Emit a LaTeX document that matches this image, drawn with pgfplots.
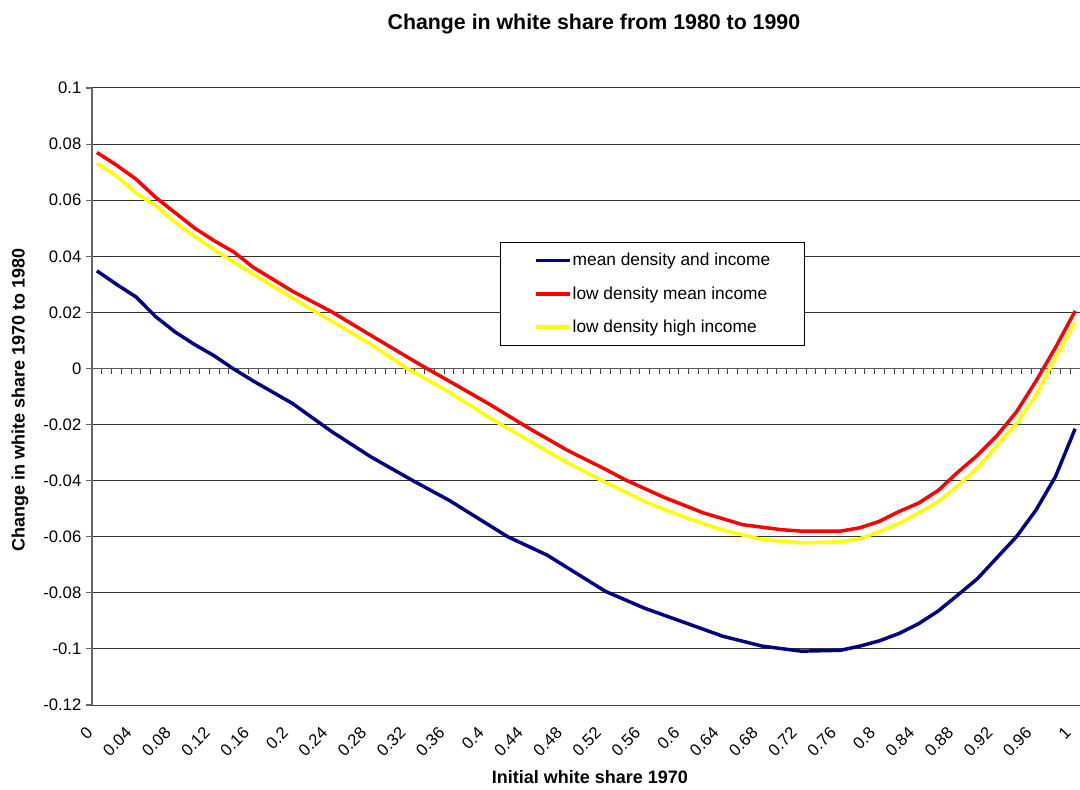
\documentclass[border=0pt]{standalone}
\usepackage{fontspec}
\setmainfont{Liberation Sans}
\usepackage{pgfplots}
\pgfplotsset{compat=1.18}

\definecolor{meanline}{HTML}{000080}
\definecolor{lowmean}{HTML}{FF0000}
\definecolor{lowhigh}{HTML}{FFFF00}

\pgfplotstableread{
x      y
0.00   0.0348
0.02   0.0300
0.04   0.0255
0.06   0.0185
0.08   0.0130
0.10   0.0085
0.12   0.0045
0.139  0.0000
0.16  -0.0045
0.20  -0.0125
0.24  -0.0225
0.28  -0.0315
0.323 -0.0400
0.36  -0.0470
0.39  -0.0535
0.42  -0.0600
0.46  -0.0665
0.52  -0.0795
0.56  -0.0855
0.60  -0.0905
0.64  -0.0955
0.68  -0.0990
0.72  -0.1008
0.76  -0.1005
0.78  -0.0990
0.80  -0.0971
0.82  -0.0945
0.84  -0.0910
0.86  -0.0865
0.88  -0.0808
0.90  -0.0750
0.92  -0.0675
0.94  -0.0600
0.96  -0.0505
0.98  -0.0385
1.00  -0.0215
}\meandata

\pgfplotstableread{
x      y
0.00   0.0770
0.02   0.0725
0.04   0.0675
0.06   0.0610
0.08   0.0555
0.10   0.0500
0.12   0.0455
0.14   0.0415
0.16   0.0360
0.20   0.0275
0.24   0.0202
0.28   0.0118
0.32   0.0035
0.337  0.0000
0.36  -0.0045
0.40  -0.0125
0.44  -0.0210
0.48  -0.0290
0.52  -0.0360
0.54  -0.0397
0.58  -0.0460
0.62  -0.0515
0.66  -0.0557
0.70  -0.0575
0.72  -0.0580
0.76  -0.0580
0.78  -0.0568
0.80  -0.0545
0.82  -0.0510
0.84  -0.0480
0.86  -0.0435
0.88  -0.0370
0.90  -0.0310
0.92  -0.0240
0.94  -0.0155
0.96  -0.0045
0.98   0.0075
1.00   0.0205
}\lowmeandata

\pgfplotstableread{
x      y
0.00   0.0732
0.02   0.0685
0.04   0.0625
0.06   0.0580
0.08   0.0520
0.10   0.0470
0.12   0.0422
0.16   0.0335
0.20   0.0250
0.24   0.0168
0.28   0.0085
0.317  0.0000
0.36  -0.0085
0.40  -0.0173
0.44  -0.0255
0.48  -0.0335
0.516 -0.0400
0.56  -0.0475
0.60  -0.0530
0.64  -0.0577
0.68  -0.0610
0.72  -0.0622
0.76  -0.0618
0.78  -0.0607
0.80  -0.0582
0.82  -0.0552
0.84  -0.0515
0.86  -0.0475
0.88  -0.0418
0.90  -0.0355
0.92  -0.0275
0.94  -0.0195
0.96  -0.0095
0.98   0.0040
1.00   0.0165
}\lowhighdata

\begin{document}
\begin{tikzpicture}
\useasboundingbox (-69pt,-63pt) rectangle (741pt,528.75pt);

% horizontal axis line at zero, one tick per category boundary
\begin{axis}[
  at={(0,0)}, anchor=south west,
  scale only axis, width=741pt, height=462.75pt,
  xmin=0, xmax=101, ymin=-0.12, ymax=0.1,
  axis x line=middle, axis y line=none,
  xtick={0,...,101}, xticklabels={}, ytick=\empty,
  tick align=outside, major tick length=4pt,
  x axis line style={-, draw=black!65, line width=0.9pt},
  xtick style={draw=black!75, line width=0.7pt},
]
\end{axis}

\begin{axis}[
  at={(0,0)}, anchor=south west,
  scale only axis, width=741pt, height=462.75pt,
  xmin=-0.005, xmax=1.005, ymin=-0.12, ymax=0.1,
  axis x line*=bottom, axis y line*=left,
  x axis line style={-, draw=black!75, line width=0.75pt},
  y axis line style={-, draw=black!60, line width=1.2pt},
  xtick={0,0.04,0.08,0.12,0.16,0.2,0.24,0.28,0.32,0.36,0.4,0.44,0.48,0.52,0.56,0.6,0.64,0.68,0.72,0.76,0.8,0.84,0.88,0.92,0.96,1},
  xticklabels={0,0.04,0.08,0.12,0.16,0.2,0.24,0.28,0.32,0.36,0.4,0.44,0.48,0.52,0.56,0.6,0.64,0.68,0.72,0.76,0.8,0.84,0.88,0.92,0.96,1},
  ytick={-0.12,-0.1,-0.08,-0.06,-0.04,-0.02,0.02,0.04,0.06,0.08,0.1},
  yticklabels={-0.12,-0.1,-0.08,-0.06,-0.04,-0.02,0.02,0.04,0.06,0.08,0.1},
  extra y ticks={0}, extra y tick labels={0},
  extra y tick style={grid=none},
  ymajorgrids, grid style={draw=black!80, line width=0.75pt},
  tick align=outside, major tick length=4.5pt,
  xtick style={draw=none},
  ytick style={draw=black!60, line width=0.8pt},
  /pgf/number format/assume math mode=true,
  tick label style={font=\fontsize{12.5}{14}\selectfont},
  xticklabel style={yshift=-12pt, xshift=-3pt, rotate=45, anchor=east},
  title={Change in white share from 1980 to 1990},
  title style={at={(axis description cs:0.508,1.091)}, anchor=center,
    font=\bfseries\fontsize{16}{19}\selectfont},
  xlabel={Initial white share 1970},
  xlabel style={at={(axis description cs:0.504,-0.1167)}, anchor=center,
    font=\bfseries\fontsize{13.5}{16}\selectfont},
  ylabel={Change in white share 1970 to 1980},
  ylabel style={at={(axis description cs:-0.0729,0.494)}, anchor=center,
    font=\bfseries\fontsize{13.5}{16}\selectfont},
  legend style={at={(axis description cs:0.413,0.750)}, anchor=north west,
    draw=black, line width=0.75pt, fill=white,
    font=\fontsize{13}{15}\selectfont,
    inner xsep=25pt, inner ysep=6pt, row sep=10pt,
    nodes={inner xsep=1pt}},
  legend cell align=left,
  legend image code/.code={\draw[#1] (0pt,0pt) -- (25.5pt,0pt);},
  every axis plot/.append style={line width=2.6pt, line join=round},
]
\addplot[meanline] table[x=x, y=y] {\meandata};
\addlegendentry{mean density and income}
\addplot[lowmean] table[x=x, y=y] {\lowmeandata};
\addlegendentry{low density mean income}
\addplot[lowhigh] table[x=x, y=y] {\lowhighdata};
\addlegendentry{low density high income}
\end{axis}
\end{tikzpicture}
\end{document}
